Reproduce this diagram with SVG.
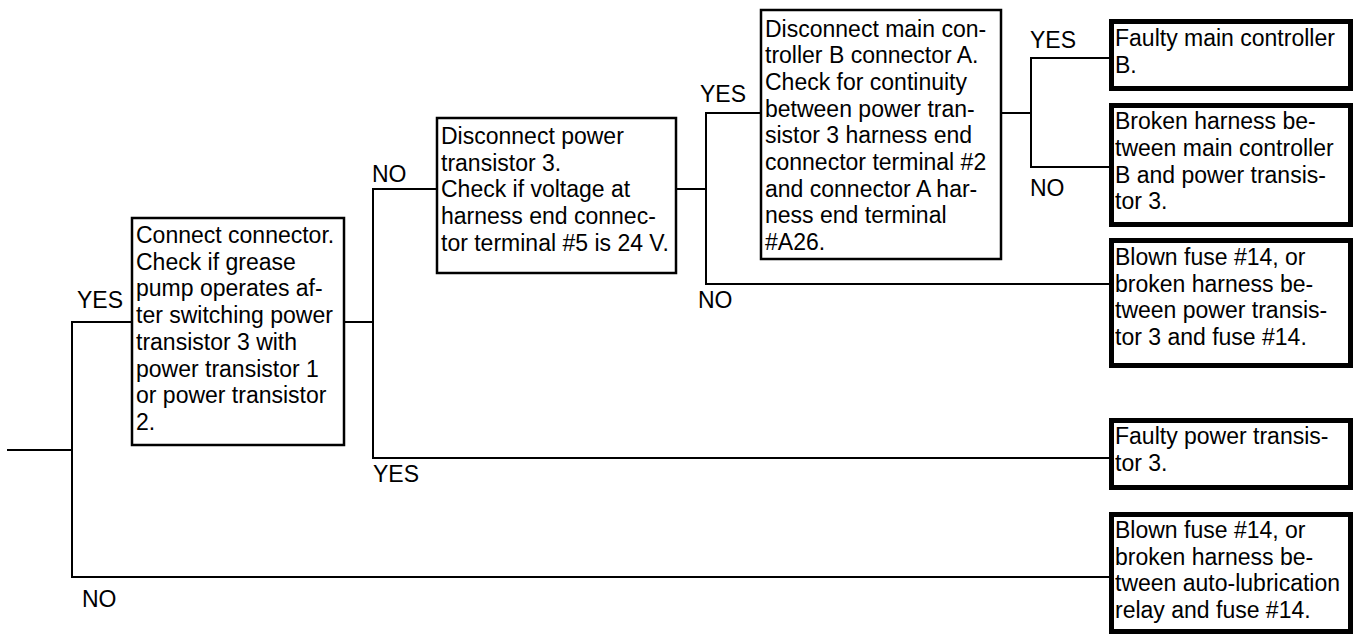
<svg xmlns="http://www.w3.org/2000/svg" width="1361" height="642" viewBox="0 0 1361 642">
<style>
text{font-family:"Liberation Sans",Arial,sans-serif;font-size:23px;fill:#000}
.box{fill:#fff;stroke:#000;stroke-width:2.5}
.end{fill:#fff;stroke:#000;stroke-width:5}
.c{fill:none;stroke:#000;stroke-width:2}
</style>
<rect width="1361" height="642" fill="#fff"/>
<g id="connectors">
<polyline class="c" points="7,450 72,450"/>
<polyline class="c" points="132,322 72,322 72,577 1109,577"/>
<polyline class="c" points="344,322 373,322"/>
<polyline class="c" points="437,189 373,189 373,458 1109,458"/>
<polyline class="c" points="676,189 706,189"/>
<polyline class="c" points="761,113 706,113 706,284 1109,284"/>
<polyline class="c" points="1001,113 1031,113"/>
<polyline class="c" points="1109,58 1031,58 1031,167 1109,167"/>
</g>
<g id="labels">
<text x="77" y="308">YES</text>
<text x="82" y="607">NO</text>
<text x="372" y="182">NO</text>
<text x="373" y="482">YES</text>
<text x="700" y="102">YES</text>
<text x="698" y="308">NO</text>
<text x="1030" y="48">YES</text>
<text x="1030" y="196">NO</text>
</g>
<g id="n1">
<rect class="box" x="132" y="218" width="212" height="227"/>
<text x="136" y="243">Connect connector.</text>
<text x="136" y="269.7">Check if grease</text>
<text x="136" y="296.4">pump operates af-</text>
<text x="136" y="323.1">ter switching power</text>
<text x="136" y="349.8">transistor 3 with</text>
<text x="136" y="376.5">power transistor 1</text>
<text x="136" y="403.2">or power transistor</text>
<text x="136" y="429.9">2.</text>
</g>
<g id="n2">
<rect class="box" x="437" y="118" width="239" height="155"/>
<text x="441" y="144">Disconnect power</text>
<text x="441" y="170.7">transistor 3.</text>
<text x="441" y="197.4">Check if voltage at</text>
<text x="441" y="224.1">harness end connec-</text>
<text x="441" y="250.8">tor terminal #5 is 24 V.</text>
</g>
<g id="n3">
<rect class="box" x="761" y="10" width="240" height="249"/>
<text x="765" y="36.5">Disconnect main con-</text>
<text x="765" y="63.2">troller B connector A.</text>
<text x="765" y="89.9">Check for continuity</text>
<text x="765" y="116.6">between power tran-</text>
<text x="765" y="143.3">sistor 3 harness end</text>
<text x="765" y="170">connector terminal #2</text>
<text x="765" y="196.7">and connector A har-</text>
<text x="765" y="223.4">ness end terminal</text>
<text x="765" y="250.1">#A26.</text>
</g>
<g id="n4">
<rect class="end" x="1111.5" y="21.5" width="239" height="67"/>
<text x="1115" y="46">Faulty main controller</text>
<text x="1115" y="72.7">B.</text>
</g>
<g id="n5">
<rect class="end" x="1111.5" y="105.5" width="239" height="119"/>
<text x="1115" y="129.3">Broken harness be-</text>
<text x="1115" y="156">tween main controller</text>
<text x="1115" y="182.7">B and power transis-</text>
<text x="1115" y="209.4">tor 3.</text>
</g>
<g id="n6">
<rect class="end" x="1111.5" y="240.5" width="239" height="125"/>
<text x="1115" y="265">Blown fuse #14, or</text>
<text x="1115" y="291.7">broken harness be-</text>
<text x="1115" y="318.4">tween power transis-</text>
<text x="1115" y="345.1">tor 3 and fuse #14.</text>
</g>
<g id="n7">
<rect class="end" x="1111.5" y="420.5" width="239" height="67"/>
<text x="1115" y="444">Faulty power transis-</text>
<text x="1115" y="470.7">tor 3.</text>
</g>
<g id="n8">
<rect class="end" x="1111.5" y="514.5" width="239" height="117"/>
<text x="1115" y="538">Blown fuse #14, or</text>
<text x="1115" y="564.7">broken harness be-</text>
<text x="1115" y="591.4">tween auto-lubrication</text>
<text x="1115" y="618.1">relay and fuse #14.</text>
</g>
</svg>
